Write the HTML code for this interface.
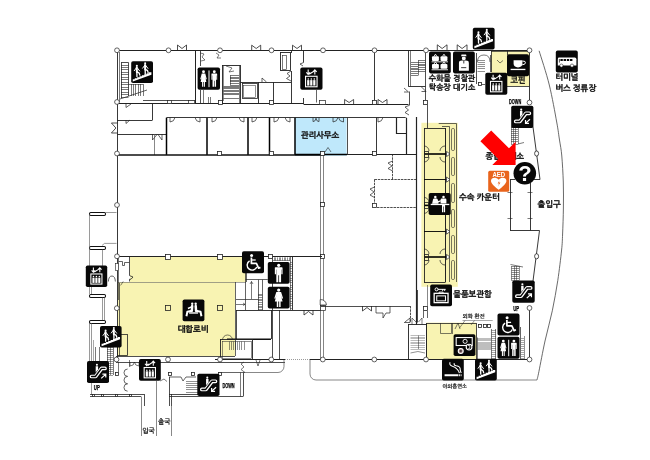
<!DOCTYPE html>
<html lang="ko"><head><meta charset="utf-8"><title>1F 안내도</title>
<style>
html,body{margin:0;padding:0;background:#fff;}
body{width:650px;height:460px;overflow:hidden;}
svg{display:block;will-change:transform;font-family:"Liberation Sans","NanumGothic","Noto Sans CJK KR",sans-serif;}
</style></head><body>
<svg width="650" height="460" viewBox="0 0 650 460">
<rect width="650" height="460" fill="#fff"/>
<path d="M130 257 L246 257 L246 282 L235 282 L235 356 L118 356 L118 282 L130 282 Z" fill="#f8f3b2"/>
<rect x="294.8" y="117.4" width="51.8" height="38.4" rx="0" fill="#bfe8fb" stroke="none" stroke-width="1" />
<rect x="421.4" y="122.8" width="36.4" height="164" rx="0" fill="#f8f3b2" stroke="none" stroke-width="1" />
<rect x="491" y="51" width="39" height="35" rx="0" fill="#f8f3b2" stroke="none" stroke-width="1" />
<rect x="426.3" y="322.6" width="50.2" height="36.8" rx="0" fill="#f8f3b2" stroke="none" stroke-width="1" />
<path d="M117 50.5 L530 50.5" fill="none" stroke="#222" stroke-width="1.15" />
<path d="M117.5 50 L117.5 359" fill="none" stroke="#222" stroke-width="0.9" />
<path d="M119.5 52 L119.5 102" fill="none" stroke="#222" stroke-width="0.6" />
<path d="M195.5 50 L195.5 104" fill="none" stroke="#222" stroke-width="1" />
<path d="M143 100.5 L195 100.5" fill="none" stroke="#222" stroke-width="0.8" />
<path d="M117 103.5 L304 103.5" fill="none" stroke="#222" stroke-width="1" />
<path d="M121 62.5 L128.5 62.5" fill="none" stroke="#222" stroke-width="0.8" />
<path d="M121.5 62.5 L121.5 98" fill="none" stroke="#222" stroke-width="0.8" />
<path d="M128.5 62.5 L128.5 96" fill="none" stroke="#222" stroke-width="0.8" />
<path d="M121 65.5 L128.5 65.5" fill="none" stroke="#222" stroke-width="0.6" />
<path d="M121 67.5 L128.5 67.5" fill="none" stroke="#222" stroke-width="0.6" />
<path d="M121 69.5 L128.5 69.5" fill="none" stroke="#222" stroke-width="0.6" />
<path d="M121 72.5 L128.5 72.5" fill="none" stroke="#222" stroke-width="0.6" />
<path d="M121 74.5 L128.5 74.5" fill="none" stroke="#222" stroke-width="0.6" />
<path d="M121 77.5 L128.5 77.5" fill="none" stroke="#222" stroke-width="0.6" />
<path d="M121 79.5 L128.5 79.5" fill="none" stroke="#222" stroke-width="0.6" />
<path d="M121 82.5 L128.5 82.5" fill="none" stroke="#222" stroke-width="0.6" />
<path d="M121 84.5 L128.5 84.5" fill="none" stroke="#222" stroke-width="0.6" />
<path d="M121 87.5 L128.5 87.5" fill="none" stroke="#222" stroke-width="0.6" />
<path d="M121 89.5 L128.5 89.5" fill="none" stroke="#222" stroke-width="0.6" />
<path d="M121 92.5 L128.5 92.5" fill="none" stroke="#222" stroke-width="0.6" />
<path d="M121 94.5 L128.5 94.5" fill="none" stroke="#222" stroke-width="0.6" />
<path d="M121 97.5 L128.5 97.5" fill="none" stroke="#222" stroke-width="0.6" />
<path d="M131.5 84 L131.5 96" fill="none" stroke="#222" stroke-width="0.6" />
<path d="M133.5 84 L133.5 96" fill="none" stroke="#222" stroke-width="0.6" />
<path d="M135.5 84 L135.5 96" fill="none" stroke="#222" stroke-width="0.6" />
<path d="M138.5 84 L138.5 96" fill="none" stroke="#222" stroke-width="0.6" />
<path d="M140.5 84 L140.5 96" fill="none" stroke="#222" stroke-width="0.6" />
<path d="M143.5 84 L143.5 96" fill="none" stroke="#222" stroke-width="0.6" />
<path d="M120 99 L147 90" fill="none" stroke="#222" stroke-width="0.7" />
<path d="M128.5 84.5 L143 84.5" fill="none" stroke="#222" stroke-width="0.6" />
<rect x="167.5" y="100.5" width="4" height="3" rx="0" fill="#fff" stroke="#222" stroke-width="0.7" />
<rect x="188.5" y="100.5" width="6" height="3" rx="0" fill="#fff" stroke="#222" stroke-width="0.7" />
<path d="M177.5 50 L177.5 45 L182.0 48.5 L186.5 45 L186.5 50" fill="none" stroke="#222" stroke-width="0.8" />
<path d="M126 104 L126 107.5 L131 104" fill="none" stroke="#222" stroke-width="0.7" />
<path d="M152.5 104 L152.5 120" fill="none" stroke="#222" stroke-width="0.9" />
<path d="M117 120.5 L152.5 120.5" fill="none" stroke="#222" stroke-width="0.9" />
<path d="M126 120 L126 123.5 L130 120" fill="none" stroke="#222" stroke-width="0.7" />
<path d="M117.4 123 L111.4 123 L115.9 128.0 L111.4 133 L117.4 133" fill="none" stroke="#222" stroke-width="0.8" />
<path d="M117 134.5 L166 134.5" fill="none" stroke="#222" stroke-width="0.9" />
<path d="M152.5 134 L152.5 140 L157 134.5" fill="none" stroke="#222" stroke-width="0.7" />
<path d="M162 134 L162 140 L158 134.5" fill="none" stroke="#222" stroke-width="0.7" />
<path d="M154.5 134 L154.5 155" fill="none" stroke="#555" stroke-width="0.7" />
<path d="M200.5 51 L200.5 66" fill="none" stroke="#222" stroke-width="0.8" />
<path d="M200.5 90 L200.5 104" fill="none" stroke="#222" stroke-width="0.8" />
<path d="M203.5 90 L203.5 104" fill="none" stroke="#222" stroke-width="0.6" />
<path d="M200.3 53 L204 54 L202 57 L205 60 L201 61" fill="none" stroke="#222" stroke-width="0.6" />
<path d="M216 53 L219 55 L217 58 L221 58" fill="none" stroke="#222" stroke-width="0.6" />
<path d="M208.5 97 L208.5 104" fill="none" stroke="#222" stroke-width="0.6" />
<path d="M210.5 97 L210.5 104" fill="none" stroke="#222" stroke-width="0.6" />
<rect x="218.5" y="100.5" width="4" height="4" rx="0" fill="#fff" stroke="#222" stroke-width="0.8" />
<rect x="222.5" y="65.5" width="18" height="38" rx="0" fill="none" stroke="#222" stroke-width="0.9" />
<path d="M223.5 66 L223.5 101" fill="none" stroke="#222" stroke-width="0.5" />
<path d="M239.5 65.5 L239.5 103.5" fill="none" stroke="#222" stroke-width="0.6" />
<path d="M230 75.5 L239 75.5" fill="none" stroke="#222" stroke-width="0.6" />
<path d="M230 77.5 L239 77.5" fill="none" stroke="#222" stroke-width="0.6" />
<path d="M230 78.5 L239 78.5" fill="none" stroke="#222" stroke-width="0.6" />
<path d="M230 80.5 L239 80.5" fill="none" stroke="#222" stroke-width="0.6" />
<path d="M230 81.5 L239 81.5" fill="none" stroke="#222" stroke-width="0.6" />
<path d="M230 83.5 L239 83.5" fill="none" stroke="#222" stroke-width="0.6" />
<path d="M230 85.5 L239 85.5" fill="none" stroke="#222" stroke-width="0.6" />
<path d="M223.5 86.5 L239 86.5" fill="none" stroke="#222" stroke-width="0.6" />
<path d="M223.5 87.5 L239 87.5" fill="none" stroke="#222" stroke-width="0.6" />
<path d="M223.5 88.5 L239 88.5" fill="none" stroke="#222" stroke-width="0.6" />
<path d="M223.5 90.5 L239 90.5" fill="none" stroke="#222" stroke-width="0.6" />
<path d="M223.5 91.5 L239 91.5" fill="none" stroke="#222" stroke-width="0.6" />
<path d="M223.5 93.5 L239 93.5" fill="none" stroke="#222" stroke-width="0.6" />
<path d="M223.5 94.5 L239 94.5" fill="none" stroke="#222" stroke-width="0.6" />
<path d="M230.5 75.5 L230.5 85" fill="none" stroke="#222" stroke-width="0.6" />
<path d="M223.5 98.5 L239 98.5" fill="none" stroke="#222" stroke-width="0.6" />
<path d="M226 66 L232 68 L229 72 L234 71" fill="none" stroke="#222" stroke-width="0.6" />
<rect x="242.5" y="83.5" width="15" height="15" rx="0" fill="none" stroke="#222" stroke-width="0.8" />
<rect x="243.5" y="85.5" width="12" height="12" rx="0" fill="none" stroke="#222" stroke-width="0.5" />
<path d="M240.5 82.5 L291 82.5" fill="none" stroke="#222" stroke-width="0.9" />
<path d="M258.5 82 L258.5 104" fill="none" stroke="#222" stroke-width="0.9" />
<path d="M273.5 82 L273.5 104" fill="none" stroke="#222" stroke-width="0.9" />
<path d="M291.5 50 L291.5 53" fill="none" stroke="#222" stroke-width="0.9" />
<path d="M291.5 71 L291.5 104" fill="none" stroke="#222" stroke-width="0.9" />
<path d="M262 82 L262 78 L266.5 82" fill="none" stroke="#222" stroke-width="0.7" />
<rect x="269.5" y="100.5" width="4" height="4" rx="0" fill="#fff" stroke="#222" stroke-width="0.8" />
<rect x="280.5" y="52.5" width="10" height="18" rx="0" fill="none" stroke="#222" stroke-width="0.9" />
<rect x="282.5" y="55.5" width="4" height="14" rx="0" fill="none" stroke="#222" stroke-width="0.6" />
<path d="M291 71 L287 73.5 L290 76 L286.5 78.5 L291 81" fill="none" stroke="#222" stroke-width="0.7" />
<path d="M251.7 50 L251.7 45.2 L256.2 48.5 L260.7 45.2 L260.7 50" fill="none" stroke="#222" stroke-width="0.8" />
<path d="M292.5 50 L292.5 45.2 L297.0 48.5 L301.5 45.2 L301.5 50" fill="none" stroke="#222" stroke-width="0.8" />
<path d="M303.5 50 L303.5 62.5" fill="none" stroke="#222" stroke-width="0.9" />
<path d="M303.6 62.5 L300 64 L303 66" fill="none" stroke="#222" stroke-width="0.7" />
<path d="M303.5 98 L303.5 104" fill="none" stroke="#222" stroke-width="0.9" />
<path d="M303.6 104.5 L408.5 104.5" fill="none" stroke="#222" stroke-width="1" />
<path d="M316.5 90 L316.5 102.5" fill="none" stroke="#222" stroke-width="0.7" />
<rect x="319.5" y="100.5" width="6" height="4" rx="0" fill="#fff" stroke="#222" stroke-width="0.7" />
<path d="M374.5 52 L374.5 100" fill="none" stroke="#222" stroke-width="0.9" />
<rect x="372.5" y="100.5" width="4" height="4" rx="0" fill="#fff" stroke="#222" stroke-width="0.8" />
<path d="M344.6 104 L344.6 99.5 L349.1 102.5 L353.6 99.5 L353.6 104" fill="none" stroke="#222" stroke-width="0.8" />
<path d="M378 104 L378 99.5 L382.5 102.5 L387 99.5 L387 104" fill="none" stroke="#222" stroke-width="0.8" />
<path d="M408.5 50 L408.5 86.7" fill="none" stroke="#222" stroke-width="0.9" />
<path d="M410.5 50 L410.5 86.7" fill="none" stroke="#222" stroke-width="0.6" />
<path d="M408.5 86.5 L425.5 86.5" fill="none" stroke="#222" stroke-width="0.9" />
<path d="M425.5 53 L425.5 100" fill="none" stroke="#222" stroke-width="0.8" />
<path d="M411 62.5 L418 62.5" fill="none" stroke="#222" stroke-width="0.6" />
<path d="M411 64.5 L418 64.5" fill="none" stroke="#222" stroke-width="0.6" />
<path d="M411 66.5 L418 66.5" fill="none" stroke="#222" stroke-width="0.6" />
<path d="M411 68.5 L418 68.5" fill="none" stroke="#222" stroke-width="0.6" />
<path d="M411 69.5 L418 69.5" fill="none" stroke="#222" stroke-width="0.6" />
<path d="M411 71.5 L418 71.5" fill="none" stroke="#222" stroke-width="0.6" />
<path d="M411 73.5 L418 73.5" fill="none" stroke="#222" stroke-width="0.6" />
<path d="M411 75.5 L418 75.5" fill="none" stroke="#222" stroke-width="0.6" />
<path d="M418 60.5 L425.3 60.5" fill="none" stroke="#222" stroke-width="0.6" />
<path d="M418 62.5 L425.3 62.5" fill="none" stroke="#222" stroke-width="0.6" />
<path d="M418 64.5 L425.3 64.5" fill="none" stroke="#222" stroke-width="0.6" />
<path d="M418 65.5 L425.3 65.5" fill="none" stroke="#222" stroke-width="0.6" />
<path d="M418 67.5 L425.3 67.5" fill="none" stroke="#222" stroke-width="0.6" />
<path d="M418 69.5 L425.3 69.5" fill="none" stroke="#222" stroke-width="0.6" />
<path d="M418 71.5 L425.3 71.5" fill="none" stroke="#222" stroke-width="0.6" />
<path d="M418.5 60.5 L418.5 75.5" fill="none" stroke="#222" stroke-width="0.6" />
<path d="M404 88 L408.5 92 L404 92" fill="none" stroke="#222" stroke-width="0.7" />
<path d="M421.5 87 L426 91.5 L421.5 91.5" fill="none" stroke="#222" stroke-width="0.7" />
<path d="M409.5 91.5 L409.5 105.5" fill="none" stroke="#222" stroke-width="0.8" />
<path d="M409 105.5 L405 107 L408.5 110 L405 112.5 L409 115" fill="none" stroke="#222" stroke-width="0.7" />
<rect x="423.5" y="100.5" width="4" height="4" rx="0" fill="#fff" stroke="#222" stroke-width="0.8" />
<path d="M427.5 104.5 L427.5 128" fill="none" stroke="#222" stroke-width="0.8" />
<path d="M166.5 117.5 L405.7 117.5" fill="none" stroke="#222" stroke-width="0.9" />
<path d="M166.5 117.7 L166.5 155" fill="none" stroke="#000" stroke-width="1.5" />
<path d="M207 117.7 L207 155" fill="none" stroke="#000" stroke-width="1.5" />
<path d="M248 117.7 L248 155" fill="none" stroke="#000" stroke-width="1.5" />
<path d="M269.5 117.7 L269.5 155" fill="none" stroke="#000" stroke-width="1.5" />
<path d="M295 117.7 L295 155" fill="none" stroke="#000" stroke-width="1.5" />
<path d="M313 117.7 V121.6 Q315.6 121.6 316 118.2 Q316.4 121.6 319 121.6 V117.7" fill="none" stroke="#222" stroke-width="0.7" />
<path d="M170 117.7 V122 Q174.2 121.6 174.8 117.9" fill="none" stroke="#222" stroke-width="0.7" />
<path d="M212 117.7 V122 Q216.2 121.6 216.8 117.9" fill="none" stroke="#222" stroke-width="0.7" />
<path d="M252 117.7 V122 Q256.2 121.6 256.8 117.9" fill="none" stroke="#222" stroke-width="0.7" />
<path d="M274 117.7 V122 Q278.2 121.6 278.8 117.9" fill="none" stroke="#222" stroke-width="0.7" />
<path d="M333 117.7 V122 Q337.2 121.6 337.8 117.9" fill="none" stroke="#222" stroke-width="0.7" />
<path d="M378 117.7 V122 Q382.2 121.6 382.8 117.9" fill="none" stroke="#222" stroke-width="0.7" />
<path d="M200 117.7 V122 Q195.8 121.6 195.2 117.9" fill="none" stroke="#222" stroke-width="0.7" />
<path d="M244 117.7 V122 Q239.8 121.6 239.2 117.9" fill="none" stroke="#222" stroke-width="0.7" />
<path d="M290 117.7 V122 Q285.8 121.6 285.2 117.9" fill="none" stroke="#222" stroke-width="0.7" />
<path d="M343.5 117.7 V122 Q339.3 121.6 338.7 117.9" fill="none" stroke="#222" stroke-width="0.7" />
<path d="M117 155 L322 155" fill="none" stroke="#111" stroke-width="1.5" />
<path d="M322 154.5 L416 154.5" fill="none" stroke="#222" stroke-width="1" />
<path d="M347.5 117.7 L347.5 154" fill="none" stroke="#222" stroke-width="0.8" />
<path d="M376.5 117.7 L376.5 154" fill="none" stroke="#222" stroke-width="0.9" />
<path d="M396.5 117.7 L396.5 133.5 L406.6 133.5" fill="none" stroke="#222" stroke-width="1.2" />
<path d="M406.5 117.7 L406.5 154" fill="none" stroke="#222" stroke-width="1.2" />
<path d="M416.5 117 L416.5 325" fill="none" stroke="#222" stroke-width="1.2" />
<path d="M295 154.5 L347 154.5" fill="none" stroke="#000" stroke-width="1.5" />
<rect x="217.5" y="151.5" width="4" height="4" rx="0" fill="#fff" stroke="#222" stroke-width="0.8" />
<rect x="269.5" y="151.5" width="4" height="4" rx="0" fill="#fff" stroke="#222" stroke-width="0.8" />
<rect x="320.5" y="151.5" width="4" height="4" rx="0" fill="#fff" stroke="#222" stroke-width="0.8" />
<rect x="372.5" y="151.5" width="4" height="4" rx="0" fill="#fff" stroke="#222" stroke-width="0.8" />
<path d="M325 152 L328 147.5 L331 152" fill="none" stroke="#222" stroke-width="0.6" />
<path d="M320.5 155 L320.5 359" fill="none" stroke="#333" stroke-width="0.6" />
<path d="M323.5 155 L323.5 359" fill="none" stroke="#333" stroke-width="0.6" />
<rect x="320.5" y="202.5" width="4" height="4" rx="0" fill="#fff" stroke="#222" stroke-width="0.8" />
<rect x="320.5" y="254.5" width="4" height="4" rx="0" fill="#fff" stroke="#222" stroke-width="0.8" />
<path d="M117 256.5 L322 256.5" fill="none" stroke="#222" stroke-width="1.2" />
<rect x="165.5" y="254.5" width="5" height="5" rx="0" fill="#fff" stroke="#222" stroke-width="0.8" />
<rect x="217.5" y="254.5" width="5" height="5" rx="0" fill="#fff" stroke="#222" stroke-width="0.8" />
<path d="M392.5 154 L392.5 179.4" fill="none" stroke="#222" stroke-width="0.8" stroke-dasharray="2.5 0.8"/>
<path d="M392.6 161 L388 163 L392 166 L388 168.5 L392.6 171" fill="none" stroke="#222" stroke-width="0.7" />
<path d="M374.5 179.5 L416 179.5" fill="none" stroke="#222" stroke-width="0.8" stroke-dasharray="2.5 0.8"/>
<path d="M374.5 179.4 L374.5 203" fill="none" stroke="#222" stroke-width="0.8" stroke-dasharray="2.5 0.8"/>
<path d="M374.5 187 L370 189 L374 192 L370 195 L374.5 197.5" fill="none" stroke="#222" stroke-width="0.7" />
<rect x="372.5" y="203.5" width="4" height="4" rx="0" fill="#fff" stroke="#222" stroke-width="0.8" />
<path d="M377 207.5 L416 207.5" fill="none" stroke="#222" stroke-width="0.8" stroke-dasharray="2.5 0.8"/>
<path d="M424 128.5 L445 128.5" fill="none" stroke="#222" stroke-width="0.9" />
<path d="M424.5 128 L424.5 282.5" fill="none" stroke="#222" stroke-width="0.9" />
<path d="M445.5 128 L445.5 282.5" fill="none" stroke="#222" stroke-width="1" />
<path d="M424 282.5 L445 282.5" fill="none" stroke="#222" stroke-width="0.9" />
<path d="M438.7 123.5 L456.5 123.5 L456.5 282" fill="none" stroke="#222" stroke-width="0.7" />
<path d="M442 126.5 L449.5 126.5 L449.5 282" fill="none" stroke="#222" stroke-width="0.7" />
<path d="M424 154 L446.5 154" fill="none" stroke="#000" stroke-width="1.6" />
<path d="M446.5 151.4 L450 154 L446.5 156.6 Z" fill="#fff" stroke="#222" stroke-width="0.7" />
<rect x="424.5" y="151.5" width="4" height="6" rx="0" fill="none" stroke="#222" stroke-width="0.8" />
<path d="M424 146 A5 5 0 0 1 429 151" fill="none" stroke="#222" stroke-width="0.7" />
<path d="M424 162 A5 5 0 0 0 429 157" fill="none" stroke="#222" stroke-width="0.7" />
<path d="M445 146 A5 5 0 0 0 440 151" fill="none" stroke="#222" stroke-width="0.7" />
<path d="M445 162 A5 5 0 0 1 440 157" fill="none" stroke="#222" stroke-width="0.7" />
<path d="M424 179.5 L446.5 179.5" fill="none" stroke="#000" stroke-width="0.9" />
<path d="M446.5 177.0 L450 179.6 L446.5 182.2 Z" fill="#fff" stroke="#222" stroke-width="0.7" />
<path d="M424 205.4 L446.5 205.4" fill="none" stroke="#000" stroke-width="1.6" />
<path d="M446.5 202.8 L450 205.4 L446.5 208.0 Z" fill="#fff" stroke="#222" stroke-width="0.7" />
<rect x="424.5" y="202.5" width="4" height="6" rx="0" fill="none" stroke="#222" stroke-width="0.8" />
<path d="M424 197.4 A5 5 0 0 1 429 202.4" fill="none" stroke="#222" stroke-width="0.7" />
<path d="M424 213.4 A5 5 0 0 0 429 208.4" fill="none" stroke="#222" stroke-width="0.7" />
<path d="M445 197.4 A5 5 0 0 0 440 202.4" fill="none" stroke="#222" stroke-width="0.7" />
<path d="M445 213.4 A5 5 0 0 1 440 208.4" fill="none" stroke="#222" stroke-width="0.7" />
<path d="M424 231.5 L446.5 231.5" fill="none" stroke="#000" stroke-width="0.9" />
<path d="M446.5 229.0 L450 231.6 L446.5 234.2 Z" fill="#fff" stroke="#222" stroke-width="0.7" />
<path d="M424 257 L446.5 257" fill="none" stroke="#000" stroke-width="1.6" />
<path d="M446.5 254.4 L450 257 L446.5 259.6 Z" fill="#fff" stroke="#222" stroke-width="0.7" />
<rect x="424.5" y="254.5" width="4" height="6" rx="0" fill="none" stroke="#222" stroke-width="0.8" />
<path d="M424 249 A5 5 0 0 1 429 254" fill="none" stroke="#222" stroke-width="0.7" />
<path d="M424 265 A5 5 0 0 0 429 260" fill="none" stroke="#222" stroke-width="0.7" />
<path d="M445 249 A5 5 0 0 0 440 254" fill="none" stroke="#222" stroke-width="0.7" />
<path d="M445 265 A5 5 0 0 1 440 260" fill="none" stroke="#222" stroke-width="0.7" />
<rect x="451.5" y="128.5" width="3" height="22" rx="1.2" fill="none" stroke="#222" stroke-width="0.6" />
<rect x="451.5" y="157.5" width="3" height="18" rx="1.2" fill="none" stroke="#222" stroke-width="0.6" />
<rect x="451.5" y="183.5" width="3" height="19" rx="1.2" fill="none" stroke="#222" stroke-width="0.6" />
<rect x="451.5" y="209.5" width="3" height="18" rx="1.2" fill="none" stroke="#222" stroke-width="0.6" />
<rect x="451.5" y="235.5" width="3" height="18" rx="1.2" fill="none" stroke="#222" stroke-width="0.6" />
<rect x="451.5" y="260.5" width="3" height="19" rx="1.2" fill="none" stroke="#222" stroke-width="0.6" />
<path d="M427.5 285 L427.5 306" fill="none" stroke="#555" stroke-width="0.7" />
<rect x="423.5" y="306.5" width="4" height="4" rx="0" fill="#fff" stroke="#222" stroke-width="0.8" />
<path d="M423.5 311 L423.5 318" fill="none" stroke="#222" stroke-width="0.7" />
<path d="M427.5 311 L427.5 318" fill="none" stroke="#222" stroke-width="0.7" />
<path d="M118 282.5 L246 282.5" fill="none" stroke="#666" stroke-width="0.6" />
<path d="M129.5 257 L129.5 275.6 L133 277 L131 279.2 L129.5 279.2 L129.5 281.5" fill="none" stroke="#222" stroke-width="0.8" />
<path d="M118.5 258 L118.5 300" fill="none" stroke="#222" stroke-width="0.6" />
<rect x="115.5" y="263.5" width="3" height="7" rx="0" fill="#fff" stroke="#222" stroke-width="0.6" />
<path d="M118.7 261.5 L122.5 261.5 L122.5 265.5 L124.5 265.5 L124.5 262.5 L129.2 262.5" fill="none" stroke="#222" stroke-width="0.7" />
<path d="M108.4 281.5 Q108.6 276 112 276 Q115 276 115.4 281.5" fill="none" stroke="#222" stroke-width="0.7" />
<path d="M123.2 281.5 L120.6 285.4" fill="none" stroke="#222" stroke-width="0.6" />
<path d="M119.5 283 L119.5 356" fill="none" stroke="#222" stroke-width="0.7" />
<rect x="165.5" y="305.5" width="5" height="5" rx="0" fill="#f8f3b2" stroke="#222" stroke-width="0.8" />
<rect x="217.5" y="305.5" width="5" height="5" rx="0" fill="#f8f3b2" stroke="#222" stroke-width="0.8" />
<rect x="117.5" y="334.5" width="10" height="21" rx="0" fill="none" stroke="#222" stroke-width="0.8" />
<rect x="89.5" y="212.5" width="16" height="3" rx="1.2" fill="#fff" stroke="#111" stroke-width="1.05" />
<rect x="89.5" y="246.5" width="16" height="3" rx="1.2" fill="#fff" stroke="#111" stroke-width="1.05" />
<rect x="89.5" y="294.5" width="16" height="3" rx="1.2" fill="#fff" stroke="#111" stroke-width="1.05" />
<rect x="89.5" y="320.5" width="16" height="3" rx="1.2" fill="#fff" stroke="#111" stroke-width="1.05" />
<path d="M89.5 214 L89.5 266" fill="none" stroke="#555" stroke-width="0.6" />
<path d="M89.5 286 L89.5 294" fill="none" stroke="#555" stroke-width="0.6" />
<path d="M91.5 286 L91.5 294" fill="none" stroke="#555" stroke-width="0.6" />
<path d="M105.6 212.5 L116.5 212.5" fill="none" stroke="#555" stroke-width="0.6" />
<path d="M102 245.5 L104.5 243.4 L116.5 243.4" fill="none" stroke="#555" stroke-width="0.6" />
<path d="M102.5 249.5 L102.5 266" fill="none" stroke="#555" stroke-width="0.6" />
<path d="M102.5 297.5 L102.5 320" fill="none" stroke="#555" stroke-width="0.6" />
<path d="M104.5 297.5 L104.5 320" fill="none" stroke="#555" stroke-width="0.6" />
<path d="M89.5 323 L89.5 361" fill="none" stroke="#555" stroke-width="0.6" />
<path d="M91.5 323 L91.5 395" fill="none" stroke="#555" stroke-width="0.6" />
<circle cx="116.8" cy="308.2" r="2.4" fill="#fff" stroke="#222" stroke-width="0.7"/>
<path d="M246.5 257 L246.5 282" fill="none" stroke="#222" stroke-width="0.7" />
<path d="M235.5 282 L235.5 356" fill="none" stroke="#222" stroke-width="0.7" />
<path d="M236 310.5 L321 310.5" fill="none" stroke="#222" stroke-width="0.9" />
<path d="M236.5 310 L236.5 339" fill="none" stroke="#222" stroke-width="0.8" />
<path d="M227 339.3 L271 339.3" fill="none" stroke="#111" stroke-width="1.4" />
<path d="M271.5 310 L271.5 339" fill="none" stroke="#222" stroke-width="0.9" />
<path d="M272.5 256.5 L272.5 359.5" fill="none" stroke="#222" stroke-width="0.8" />
<path d="M279.5 310 L279.5 359.5" fill="none" stroke="#222" stroke-width="0.8" />
<path d="M265 256.5 L292 256.5" fill="none" stroke="#222" stroke-width="1" />
<path d="M292.5 256.5 L292.5 310" fill="none" stroke="#222" stroke-width="0.9" />
<path d="M245.6 279.5 L267.8 279.5" fill="none" stroke="#222" stroke-width="0.7" />
<path d="M245.5 273 L245.5 310" fill="none" stroke="#222" stroke-width="0.7" />
<path d="M258.5 279.7 L258.5 310" fill="none" stroke="#222" stroke-width="0.7" />
<path d="M262.5 279.7 L262.5 310" fill="none" stroke="#222" stroke-width="0.7" />
<path d="M258 294.5 L262.3 294.5" fill="none" stroke="#222" stroke-width="0.5" />
<path d="M258 295.5 L262.3 295.5" fill="none" stroke="#222" stroke-width="0.5" />
<path d="M258 297.5 L262.3 297.5" fill="none" stroke="#222" stroke-width="0.5" />
<path d="M258 299.5 L262.3 299.5" fill="none" stroke="#222" stroke-width="0.5" />
<path d="M258 300.5 L262.3 300.5" fill="none" stroke="#222" stroke-width="0.5" />
<path d="M258 302.5 L262.3 302.5" fill="none" stroke="#222" stroke-width="0.5" />
<path d="M258 304.5 L262.3 304.5" fill="none" stroke="#222" stroke-width="0.5" />
<path d="M258 306.5 L262.3 306.5" fill="none" stroke="#222" stroke-width="0.5" />
<path d="M258 307.5 L262.3 307.5" fill="none" stroke="#222" stroke-width="0.5" />
<path d="M258 309.5 L262.3 309.5" fill="none" stroke="#222" stroke-width="0.5" />
<path d="M251.5 281.5 L251.5 299" fill="none" stroke="#222" stroke-width="0.6" />
<path d="M250 284 L251.5 281.5 L253 284" fill="none" stroke="#222" stroke-width="0.6" />
<path d="M236 299.5 L258 299.5" fill="none" stroke="#222" stroke-width="0.7" />
<path d="M236 304.5 L245 304.5" fill="none" stroke="#222" stroke-width="0.6" />
<path d="M243 303 L245 304.3 L243 305.6" fill="none" stroke="#222" stroke-width="0.6" />
<path d="M274.5 257.4 L274.5 260.6" fill="none" stroke="#222" stroke-width="0.5" />
<path d="M275.5 257.4 L275.5 260.6" fill="none" stroke="#222" stroke-width="0.5" />
<path d="M277.5 257.4 L277.5 260.6" fill="none" stroke="#222" stroke-width="0.5" />
<path d="M279.5 257.4 L279.5 260.6" fill="none" stroke="#222" stroke-width="0.5" />
<path d="M280.5 257.4 L280.5 260.6" fill="none" stroke="#222" stroke-width="0.5" />
<path d="M282.5 257.4 L282.5 260.6" fill="none" stroke="#222" stroke-width="0.5" />
<path d="M284.5 257.4 L284.5 260.6" fill="none" stroke="#222" stroke-width="0.5" />
<path d="M285.5 257.4 L285.5 260.6" fill="none" stroke="#222" stroke-width="0.5" />
<path d="M287.5 257.4 L287.5 260.6" fill="none" stroke="#222" stroke-width="0.5" />
<path d="M289.5 257.4 L289.5 260.6" fill="none" stroke="#222" stroke-width="0.5" />
<path d="M273 260.5 L290 260.5" fill="none" stroke="#222" stroke-width="0.5" />
<path d="M290.5 257 L290.5 310" fill="none" stroke="#222" stroke-width="0.6" />
<path d="M290 262.5 L292 262.5" fill="none" stroke="#222" stroke-width="0.45" />
<path d="M290 264.5 L292 264.5" fill="none" stroke="#222" stroke-width="0.45" />
<path d="M290 266.5 L292 266.5" fill="none" stroke="#222" stroke-width="0.45" />
<path d="M290 268.5 L292 268.5" fill="none" stroke="#222" stroke-width="0.45" />
<path d="M290 271.5 L292 271.5" fill="none" stroke="#222" stroke-width="0.45" />
<path d="M290 273.5 L292 273.5" fill="none" stroke="#222" stroke-width="0.45" />
<path d="M290 275.5 L292 275.5" fill="none" stroke="#222" stroke-width="0.45" />
<path d="M290 278.5 L292 278.5" fill="none" stroke="#222" stroke-width="0.45" />
<path d="M290 280.5 L292 280.5" fill="none" stroke="#222" stroke-width="0.45" />
<path d="M290 282.5 L292 282.5" fill="none" stroke="#222" stroke-width="0.45" />
<path d="M290 285.5 L292 285.5" fill="none" stroke="#222" stroke-width="0.45" />
<path d="M290 287.5 L292 287.5" fill="none" stroke="#222" stroke-width="0.45" />
<path d="M290 289.5 L292 289.5" fill="none" stroke="#222" stroke-width="0.45" />
<path d="M290 291.5 L292 291.5" fill="none" stroke="#222" stroke-width="0.45" />
<path d="M290 294.5 L292 294.5" fill="none" stroke="#222" stroke-width="0.45" />
<path d="M290 296.5 L292 296.5" fill="none" stroke="#222" stroke-width="0.45" />
<path d="M290 298.5 L292 298.5" fill="none" stroke="#222" stroke-width="0.45" />
<path d="M290 301.5 L292 301.5" fill="none" stroke="#222" stroke-width="0.45" />
<path d="M290 303.5 L292 303.5" fill="none" stroke="#222" stroke-width="0.45" />
<path d="M290 305.5 L292 305.5" fill="none" stroke="#222" stroke-width="0.45" />
<path d="M290 308.5 L292 308.5" fill="none" stroke="#222" stroke-width="0.45" />
<rect x="268.5" y="254.5" width="4" height="4" rx="0" fill="#fff" stroke="#222" stroke-width="0.8" />
<rect x="320.5" y="305.5" width="5" height="5" rx="0" fill="#fff" stroke="#222" stroke-width="0.7" />
<path d="M320.2 305 V299.6 A5.6 5.4 0 0 1 326.4 305 Z" fill="#fff" stroke="#222" stroke-width="0.7" />
<path d="M304 310 L304 315 L308.5 311.5 L313 315 L313 310" fill="none" stroke="#222" stroke-width="0.8" />
<rect x="220.5" y="339.5" width="32" height="20" rx="0" fill="none" stroke="#222" stroke-width="0.9" />
<rect x="222.5" y="341.5" width="29" height="17" rx="0" fill="none" stroke="#222" stroke-width="0.5" />
<path d="M229.5 341.5 L229.5 350" fill="none" stroke="#222" stroke-width="0.5" />
<path d="M231.5 341.5 L231.5 350" fill="none" stroke="#222" stroke-width="0.5" />
<path d="M233.5 341.5 L233.5 350" fill="none" stroke="#222" stroke-width="0.5" />
<path d="M235.5 341.5 L235.5 350" fill="none" stroke="#222" stroke-width="0.5" />
<path d="M237.5 341.5 L237.5 350" fill="none" stroke="#222" stroke-width="0.5" />
<path d="M239.5 341.5 L239.5 350" fill="none" stroke="#222" stroke-width="0.5" />
<path d="M241.5 341.5 L241.5 350" fill="none" stroke="#222" stroke-width="0.5" />
<path d="M244.5 341.5 L244.5 350" fill="none" stroke="#222" stroke-width="0.5" />
<path d="M222.5 340 A5 5 0 0 1 232.5 340" fill="none" stroke="#222" stroke-width="0.6" />
<path d="M116 356.5 L235 356.5" fill="none" stroke="#222" stroke-width="0.8" />
<path d="M116 362.5 L285 362.5" fill="none" stroke="#222" stroke-width="0.8" />
<path d="M215 359.5 L285 359.5" fill="none" stroke="#222" stroke-width="1.2" />
<path d="M285 359.5 L310 359.5" fill="none" stroke="#555" stroke-width="0.6" stroke-dasharray="1 1"/>
<path d="M310 359.5 L530 359.5" fill="none" stroke="#222" stroke-width="1.2" />
<path d="M245 372.5 L278 372.5 A6 6 0 0 0 284 366.5 L284 360" fill="none" stroke="#555" stroke-width="0.7" />
<path d="M310 360 L310 374 A6 6 0 0 0 316 380 L537 380" fill="none" stroke="#555" stroke-width="0.7" />
<path d="M90 394.5 L144 394.5" fill="none" stroke="#222" stroke-width="0.8" />
<path d="M90 396.5 L141 396.5" fill="none" stroke="#222" stroke-width="0.8" />
<path d="M144.5 394 L144.5 406" fill="none" stroke="#222" stroke-width="0.8" />
<path d="M141.5 396.5 L141.5 436" fill="none" stroke="#555" stroke-width="0.7" />
<path d="M156.5 381 L156.5 436" fill="none" stroke="#555" stroke-width="0.7" />
<path d="M171.5 406 L171.5 436" fill="none" stroke="#555" stroke-width="0.7" />
<path d="M169.5 377 L169.5 406" fill="none" stroke="#222" stroke-width="0.8" />
<path d="M171.5 394 L171.5 406" fill="none" stroke="#222" stroke-width="0.8" />
<path d="M169 394.5 L219 394.5" fill="none" stroke="#222" stroke-width="0.8" />
<path d="M169 396.5 L243 396.5" fill="none" stroke="#222" stroke-width="0.8" />
<path d="M243.5 372.5 L243.5 396.5" fill="none" stroke="#222" stroke-width="0.8" />
<path d="M240.5 372.5 L240.5 396.5" fill="none" stroke="#222" stroke-width="0.6" />
<path d="M219 372.5 L245 372.5" fill="none" stroke="#222" stroke-width="0.7" />
<rect x="92.5" y="394.5" width="2" height="2" rx="0" fill="#fff" stroke="#222" stroke-width="0.8" />
<rect x="101.5" y="394.5" width="2" height="2" rx="0" fill="#fff" stroke="#222" stroke-width="0.8" />
<rect x="115.5" y="394.5" width="2" height="2" rx="0" fill="#fff" stroke="#222" stroke-width="0.8" />
<rect x="129.5" y="394.5" width="2" height="2" rx="0" fill="#fff" stroke="#222" stroke-width="0.8" />
<rect x="115.5" y="372.5" width="3" height="3" rx="0" fill="#fff" stroke="#222" stroke-width="0.8" />
<rect x="168.5" y="372.5" width="3" height="3" rx="0" fill="#fff" stroke="#222" stroke-width="0.8" />
<rect x="191.5" y="372.5" width="3" height="3" rx="0" fill="#fff" stroke="#222" stroke-width="0.8" />
<rect x="218.5" y="372.5" width="3" height="3" rx="0" fill="#fff" stroke="#222" stroke-width="0.8" />
<path d="M127.6 369 A3.6 3.7 0 0 0 127.6 376.4 A3.6 3.7 0 0 0 127.6 383.8 A3.6 3.7 0 0 0 127.6 391.2" fill="none" stroke="#222" stroke-width="0.7" />
<path d="M130 362 V366 Q134 366 134.4 362 Q135 366 139 366 V362" fill="none" stroke="#222" stroke-width="0.6" />
<path d="M118.5 362 L118.5 372" fill="none" stroke="#222" stroke-width="0.6" />
<path d="M113.5 347 L113.5 375" fill="none" stroke="#222" stroke-width="0.6" />
<path d="M107.5 347 L107.5 375" fill="none" stroke="#222" stroke-width="0.6" />
<path d="M110.5 347 L110.5 375" fill="none" stroke="#222" stroke-width="0.5" />
<path d="M107 347.5 L113 347.5" fill="none" stroke="#222" stroke-width="0.45" />
<path d="M107 349.5 L113 349.5" fill="none" stroke="#222" stroke-width="0.45" />
<path d="M107 351.5 L113 351.5" fill="none" stroke="#222" stroke-width="0.45" />
<path d="M107 353.5 L113 353.5" fill="none" stroke="#222" stroke-width="0.45" />
<path d="M107 355.5 L113 355.5" fill="none" stroke="#222" stroke-width="0.45" />
<path d="M107 357.5 L113 357.5" fill="none" stroke="#222" stroke-width="0.45" />
<path d="M107 359.5 L113 359.5" fill="none" stroke="#222" stroke-width="0.45" />
<path d="M107 361.5 L113 361.5" fill="none" stroke="#222" stroke-width="0.45" />
<path d="M107 363.5 L113 363.5" fill="none" stroke="#222" stroke-width="0.45" />
<path d="M107 365.5 L113 365.5" fill="none" stroke="#222" stroke-width="0.45" />
<path d="M107 367.5 L113 367.5" fill="none" stroke="#222" stroke-width="0.45" />
<path d="M107 369.5 L113 369.5" fill="none" stroke="#222" stroke-width="0.45" />
<path d="M107 371.5 L113 371.5" fill="none" stroke="#222" stroke-width="0.45" />
<path d="M107 373.5 L113 373.5" fill="none" stroke="#222" stroke-width="0.45" />
<path d="M107 375.5 L113 375.5" fill="none" stroke="#222" stroke-width="0.45" />
<path d="M95.5 347 L95.5 361" fill="none" stroke="#222" stroke-width="0.6" />
<path d="M99.5 347 L99.5 361" fill="none" stroke="#222" stroke-width="0.6" />
<path d="M93.5 340 L93.5 361" fill="none" stroke="#555" stroke-width="0.5" />
<path d="M129.5 360 L129.5 367" fill="none" stroke="#222" stroke-width="0.6" />
<path d="M160 381 L164 379 L167 381.5" fill="none" stroke="#222" stroke-width="0.6" />
<path d="M169 377 L181 377 L183 381 L186 377 L196 377" fill="none" stroke="#222" stroke-width="0.7" />
<path d="M186 381.5 L198 381.5" fill="none" stroke="#222" stroke-width="0.5" />
<path d="M186 383.5 L198 383.5" fill="none" stroke="#222" stroke-width="0.5" />
<path d="M186 385.5 L198 385.5" fill="none" stroke="#222" stroke-width="0.5" />
<path d="M186 387.5 L198 387.5" fill="none" stroke="#222" stroke-width="0.5" />
<path d="M186 389.5 L198 389.5" fill="none" stroke="#222" stroke-width="0.5" />
<path d="M186 392.5 L198 392.5" fill="none" stroke="#222" stroke-width="0.5" />
<path d="M244 362 L241 364 L244 367 L241 369.5 L245 372.5" fill="none" stroke="#222" stroke-width="0.6" />
<path d="M256 360 L258 366 L260 360" fill="none" stroke="#222" stroke-width="0.6" />
<path d="M321 306.5 L410 306.5" fill="none" stroke="#222" stroke-width="0.8" />
<path d="M410.5 306 L410.5 322.5" fill="none" stroke="#222" stroke-width="0.8" stroke-dasharray="2.5 0.8"/>
<path d="M417.5 290 L417.5 322.5" fill="none" stroke="#222" stroke-width="0.8" />
<path d="M362.5 306 L362.5 311 L367.0 307.5 L371.5 311 L371.5 306" fill="none" stroke="#222" stroke-width="0.8" />
<path d="M376 306 L376 313 L383 313 L383 318 L386 313 L390 313 L390 306" fill="none" stroke="#222" stroke-width="0.7" />
<path d="M404 322.5 L410 322.5 L410 318 L405 322" fill="none" stroke="#222" stroke-width="0.7" />
<rect x="408.5" y="324.5" width="18" height="35" rx="0" fill="none" stroke="#222" stroke-width="0.9" />
<path d="M410.5 335.5 L425 335.5" fill="none" stroke="#555" stroke-width="0.4" />
<path d="M410.5 337.5 L425 337.5" fill="none" stroke="#555" stroke-width="0.4" />
<path d="M410.5 338.5 L425 338.5" fill="none" stroke="#555" stroke-width="0.4" />
<path d="M410.5 340.5 L425 340.5" fill="none" stroke="#555" stroke-width="0.4" />
<path d="M410.5 342.5 L425 342.5" fill="none" stroke="#555" stroke-width="0.4" />
<path d="M410.5 343.5 L425 343.5" fill="none" stroke="#555" stroke-width="0.4" />
<path d="M410.5 345.5 L425 345.5" fill="none" stroke="#555" stroke-width="0.4" />
<path d="M410.5 347.5 L425 347.5" fill="none" stroke="#555" stroke-width="0.4" />
<path d="M410.5 349.5 L425 349.5" fill="none" stroke="#555" stroke-width="0.4" />
<path d="M418.5 335.5 L418.5 349" fill="none" stroke="#222" stroke-width="0.5" />
<path d="M410.5 353 Q418 350 425 353" fill="none" stroke="#222" stroke-width="0.5" />
<path d="M412 324 L412 318 L416 322" fill="none" stroke="#222" stroke-width="0.6" />
<path d="M422 324 L422 318 L418.5 322" fill="none" stroke="#222" stroke-width="0.6" />
<rect x="426.5" y="323.5" width="50" height="36" rx="0" fill="none" stroke="#222" stroke-width="0.8" />
<path d="M440.5 323 L440.5 333.5 L451.5 333.5 L451.5 323" fill="none" stroke="#222" stroke-width="0.6" />
<path d="M452.5 323 L452.5 334" fill="none" stroke="#222" stroke-width="0.6" />
<path d="M455 329 L458 323 L460 329" fill="none" stroke="#222" stroke-width="0.6" />
<path d="M465 320.5 L459.5 328" fill="none" stroke="#222" stroke-width="0.5" />
<path d="M474.5 320.5 L471 325" fill="none" stroke="#222" stroke-width="0.5" />
<path d="M462.5 320.5 L492.7 320.5" fill="none" stroke="#555" stroke-width="0.5" />
<path d="M477.5 338.5 L491 338.5" fill="none" stroke="#444" stroke-width="0.35" />
<path d="M477.5 339.5 L491 339.5" fill="none" stroke="#444" stroke-width="0.35" />
<path d="M477.5 340.5 L491 340.5" fill="none" stroke="#444" stroke-width="0.35" />
<path d="M477.5 342.5 L491 342.5" fill="none" stroke="#444" stroke-width="0.35" />
<path d="M477.5 343.5 L491 343.5" fill="none" stroke="#444" stroke-width="0.35" />
<path d="M477.5 344.5 L491 344.5" fill="none" stroke="#444" stroke-width="0.35" />
<path d="M477.5 345.5 L491 345.5" fill="none" stroke="#444" stroke-width="0.35" />
<path d="M477.5 346.5 L491 346.5" fill="none" stroke="#444" stroke-width="0.35" />
<path d="M477.5 347.5 L491 347.5" fill="none" stroke="#444" stroke-width="0.35" />
<path d="M477.5 348.5 L491 348.5" fill="none" stroke="#444" stroke-width="0.35" />
<path d="M477.5 349.5 L491 349.5" fill="none" stroke="#444" stroke-width="0.35" />
<path d="M477.5 337.5 L477.5 359" fill="none" stroke="#222" stroke-width="0.6" />
<rect x="478.5" y="324.5" width="3" height="3" rx="0" fill="#fff" stroke="#222" stroke-width="0.8" />
<rect x="483.5" y="324.5" width="3" height="3" rx="0" fill="#fff" stroke="#222" stroke-width="0.8" />
<rect x="487.5" y="324.5" width="3" height="3" rx="0" fill="#fff" stroke="#222" stroke-width="0.8" />
<path d="M491.5 329 L491.5 359.5" fill="none" stroke="#222" stroke-width="0.6" />
<path d="M495.5 329 L495.5 359.5" fill="none" stroke="#222" stroke-width="0.6" />
<path d="M491.6 330.5 L495.8 330.5" fill="none" stroke="#222" stroke-width="0.4" />
<path d="M491.6 332.5 L495.8 332.5" fill="none" stroke="#222" stroke-width="0.4" />
<path d="M491.6 334.5 L495.8 334.5" fill="none" stroke="#222" stroke-width="0.4" />
<path d="M491.6 336.5 L495.8 336.5" fill="none" stroke="#222" stroke-width="0.4" />
<path d="M491.6 338.5 L495.8 338.5" fill="none" stroke="#222" stroke-width="0.4" />
<path d="M491.6 340.5 L495.8 340.5" fill="none" stroke="#222" stroke-width="0.4" />
<path d="M491.6 342.5 L495.8 342.5" fill="none" stroke="#222" stroke-width="0.4" />
<path d="M491.6 344.5 L495.8 344.5" fill="none" stroke="#222" stroke-width="0.4" />
<path d="M491.6 346.5 L495.8 346.5" fill="none" stroke="#222" stroke-width="0.4" />
<path d="M491.6 348.5 L495.8 348.5" fill="none" stroke="#222" stroke-width="0.4" />
<path d="M491.6 350.5 L495.8 350.5" fill="none" stroke="#222" stroke-width="0.4" />
<path d="M491.6 352.5 L495.8 352.5" fill="none" stroke="#222" stroke-width="0.4" />
<path d="M491.6 354.5 L495.8 354.5" fill="none" stroke="#222" stroke-width="0.4" />
<path d="M491.6 356.5 L495.8 356.5" fill="none" stroke="#222" stroke-width="0.4" />
<path d="M491.6 358.5 L495.8 358.5" fill="none" stroke="#222" stroke-width="0.4" />
<path d="M520.5 327 L520.5 359.5" fill="none" stroke="#222" stroke-width="0.7" />
<path d="M529.5 310 L529.5 359.5" fill="none" stroke="#222" stroke-width="0.9" />
<path d="M521 338.5 L524 338.5" fill="none" stroke="#222" stroke-width="0.4" />
<path d="M521 340.5 L524 340.5" fill="none" stroke="#222" stroke-width="0.4" />
<path d="M521 342.5 L524 342.5" fill="none" stroke="#222" stroke-width="0.4" />
<path d="M521 344.5 L524 344.5" fill="none" stroke="#222" stroke-width="0.4" />
<path d="M521 346.5 L524 346.5" fill="none" stroke="#222" stroke-width="0.4" />
<path d="M521 348.5 L524 348.5" fill="none" stroke="#222" stroke-width="0.4" />
<path d="M521 350.5 L524 350.5" fill="none" stroke="#222" stroke-width="0.4" />
<path d="M521 352.5 L524 352.5" fill="none" stroke="#222" stroke-width="0.4" />
<path d="M521 354.5 L524 354.5" fill="none" stroke="#222" stroke-width="0.4" />
<path d="M521 356.5 L524 356.5" fill="none" stroke="#222" stroke-width="0.4" />
<path d="M521 358.5 L524 358.5" fill="none" stroke="#222" stroke-width="0.4" />
<path d="M524.5 336 L524.5 359" fill="none" stroke="#222" stroke-width="0.5" />
<path d="M529.5 50.5 L529.5 102.5" fill="none" stroke="#222" stroke-width="0.9" />
<path d="M533 127 L540 179.5" fill="none" stroke="#222" stroke-width="0.9" />
<path d="M534 179.5 L540 179.5" fill="none" stroke="#222" stroke-width="0.9" />
<path d="M510 179.5 L515 179.5" fill="none" stroke="#222" stroke-width="0.9" />
<path d="M510.5 179.5 L510.5 230.5" fill="none" stroke="#222" stroke-width="0.9" />
<path d="M530.5 183 L530.5 230.5" fill="none" stroke="#222" stroke-width="0.9" />
<path d="M510 230.5 L539.5 230.5" fill="none" stroke="#222" stroke-width="0.9" />
<path d="M539.5 230.5 L533 281" fill="none" stroke="#222" stroke-width="0.9" />
<path d="M507.5 192.5 L512.5 192.5" fill="none" stroke="#222" stroke-width="0.6" />
<path d="M527.5 192.5 L532.5 192.5" fill="none" stroke="#222" stroke-width="0.6" />
<path d="M507.5 218.5 L512.5 218.5" fill="none" stroke="#222" stroke-width="0.6" />
<path d="M527.5 218.5 L532.5 218.5" fill="none" stroke="#222" stroke-width="0.6" />
<path d="M511 127.5 L518 127.5" fill="none" stroke="#222" stroke-width="0.5" />
<path d="M511 129.5 L518 129.5" fill="none" stroke="#222" stroke-width="0.5" />
<path d="M511 131.5 L518 131.5" fill="none" stroke="#222" stroke-width="0.5" />
<path d="M511 133.5 L518 133.5" fill="none" stroke="#222" stroke-width="0.5" />
<path d="M511 135.5 L518 135.5" fill="none" stroke="#222" stroke-width="0.5" />
<path d="M511 137.5 L518 137.5" fill="none" stroke="#222" stroke-width="0.5" />
<path d="M511 139.5 L518 139.5" fill="none" stroke="#222" stroke-width="0.5" />
<path d="M511 141.5 L518 141.5" fill="none" stroke="#222" stroke-width="0.5" />
<path d="M511 144.5 L518 144.5" fill="none" stroke="#222" stroke-width="0.5" />
<path d="M511.5 127 L511.5 144" fill="none" stroke="#222" stroke-width="0.5" />
<path d="M513.5 127 L513.5 144" fill="none" stroke="#222" stroke-width="0.5" />
<path d="M515.5 127 L515.5 144" fill="none" stroke="#222" stroke-width="0.5" />
<path d="M518.5 127 L518.5 144" fill="none" stroke="#222" stroke-width="0.5" />
<path d="M518 144 L524 142.5" fill="none" stroke="#222" stroke-width="0.6" />
<path d="M511.5 266.5 L519 266.5" fill="none" stroke="#222" stroke-width="0.5" />
<path d="M511.5 268.5 L519 268.5" fill="none" stroke="#222" stroke-width="0.5" />
<path d="M511.5 270.5 L519 270.5" fill="none" stroke="#222" stroke-width="0.5" />
<path d="M511.5 272.5 L519 272.5" fill="none" stroke="#222" stroke-width="0.5" />
<path d="M511.5 274.5 L519 274.5" fill="none" stroke="#222" stroke-width="0.5" />
<path d="M511.5 276.5 L519 276.5" fill="none" stroke="#222" stroke-width="0.5" />
<path d="M511.5 278.5 L519 278.5" fill="none" stroke="#222" stroke-width="0.5" />
<path d="M511.5 280.5 L519 280.5" fill="none" stroke="#222" stroke-width="0.5" />
<path d="M511.5 266 L511.5 280.5" fill="none" stroke="#222" stroke-width="0.5" />
<path d="M514.5 266 L514.5 280.5" fill="none" stroke="#222" stroke-width="0.5" />
<path d="M516.5 266 L516.5 280.5" fill="none" stroke="#222" stroke-width="0.5" />
<path d="M519.5 266 L519.5 280.5" fill="none" stroke="#222" stroke-width="0.5" />
<path d="M510.5 264.5 L523 267" fill="none" stroke="#222" stroke-width="0.6" />
<path d="M539.1 50.8 C540.8 56.5 546.4 73.1 549.3 85 C552.2 96.9 555.0 112.8 556.7 122 C558.4 131.2 558.6 134.3 559.5 140 C560.4 145.7 561.2 149.0 561.8 156 C562.4 163.0 563.0 173.3 563.3 182 C563.6 190.7 563.5 199.3 563.4 208 C563.3 216.7 562.9 227.0 562.6 234 C562.3 241.0 562.4 242.3 561.6 250 C560.8 257.7 559.3 270.3 557.8 280.4 C556.2 290.5 554.4 300.7 552.3 310.8 C550.2 320.9 547.2 330.9 545 341 C542.8 351.1 540.2 365.1 538.9 371.6 C537.6 378.1 537.3 378.6 537 380" fill="none" stroke="#444" stroke-width="0.8" />
<path d="M491.5 51 L491.5 72" fill="none" stroke="#222" stroke-width="0.8" />
<path d="M507.5 51 L507.5 55" fill="none" stroke="#222" stroke-width="0.8" />
<path d="M491 51.5 L529.5 51.5" fill="none" stroke="#222" stroke-width="0.7" />
<path d="M507 86.5 L529.5 86.5" fill="none" stroke="#222" stroke-width="0.8" />
<path d="M497 60 L500 63 L503 60.5" fill="none" stroke="#222" stroke-width="0.6" />
<path d="M476.5 53 L476.5 84" fill="none" stroke="#222" stroke-width="0.8" />
<path d="M490.5 55 L490.5 72" fill="none" stroke="#222" stroke-width="0.7" />
<path d="M477.5 62 Q477.5 55 484 55 Q490 55 490 62" fill="none" stroke="#222" stroke-width="0.6" />
<path d="M477.5 60.5 L485 60.5" fill="none" stroke="#222" stroke-width="0.5" />
<path d="M477.5 62.5 L485 62.5" fill="none" stroke="#222" stroke-width="0.5" />
<path d="M477.5 64.5 L485 64.5" fill="none" stroke="#222" stroke-width="0.5" />
<path d="M477.5 66.5 L485 66.5" fill="none" stroke="#222" stroke-width="0.5" />
<path d="M477.5 68.5 L485 68.5" fill="none" stroke="#222" stroke-width="0.5" />
<path d="M477.5 71.5 L485 71.5" fill="none" stroke="#222" stroke-width="0.5" />
<path d="M478 84.5 L485 84.5" fill="none" stroke="#222" stroke-width="0.7" />
<rect x="478.5" y="82.5" width="3" height="3" rx="0" fill="#fff" stroke="#222" stroke-width="0.8" />
<path d="M437.3 50 L437.3 44.8 L442.15 48.5 L447.0 44.8 L447.0 50" fill="none" stroke="#222" stroke-width="0.8" />
<path d="M457.2 50 L457.2 44.8 L462.1 48.5 L467.0 44.8 L467.0 50" fill="none" stroke="#222" stroke-width="0.8" />
<circle cx="117" cy="50.3" r="2.4" fill="#fff" stroke="#222" stroke-width="0.7"/>
<circle cx="168.5" cy="50.3" r="2.4" fill="#fff" stroke="#222" stroke-width="0.7"/>
<circle cx="220" cy="50.3" r="2.4" fill="#fff" stroke="#222" stroke-width="0.7"/>
<circle cx="271.5" cy="50.3" r="2.4" fill="#fff" stroke="#222" stroke-width="0.7"/>
<circle cx="323" cy="50.3" r="2.4" fill="#fff" stroke="#222" stroke-width="0.7"/>
<circle cx="374.5" cy="50.3" r="2.4" fill="#fff" stroke="#222" stroke-width="0.7"/>
<circle cx="426" cy="50.3" r="2.4" fill="#fff" stroke="#222" stroke-width="0.7"/>
<circle cx="529.5" cy="50.3" r="2.4" fill="#fff" stroke="#222" stroke-width="0.7"/>
<circle cx="117" cy="102" r="2.4" fill="#fff" stroke="#222" stroke-width="0.7"/>
<circle cx="117" cy="153.5" r="2.4" fill="#fff" stroke="#222" stroke-width="0.7"/>
<circle cx="117" cy="205" r="2.4" fill="#fff" stroke="#222" stroke-width="0.7"/>
<circle cx="117" cy="256.3" r="2.4" fill="#fff" stroke="#222" stroke-width="0.7"/>
<circle cx="116.5" cy="359.5" r="2.4" fill="#fff" stroke="#222" stroke-width="0.7"/>
<circle cx="168" cy="359.5" r="2.4" fill="#fff" stroke="#222" stroke-width="0.7"/>
<circle cx="220" cy="359.5" r="2.4" fill="#fff" stroke="#222" stroke-width="0.7"/>
<circle cx="271.3" cy="359.5" r="2.4" fill="#fff" stroke="#222" stroke-width="0.7"/>
<circle cx="322.8" cy="359.5" r="2.4" fill="#fff" stroke="#222" stroke-width="0.7"/>
<circle cx="374.3" cy="359.5" r="2.4" fill="#fff" stroke="#222" stroke-width="0.7"/>
<circle cx="426" cy="359.5" r="2.4" fill="#fff" stroke="#222" stroke-width="0.7"/>
<circle cx="529.5" cy="359.5" r="2.4" fill="#fff" stroke="#222" stroke-width="0.7"/>
<circle cx="529.5" cy="102.5" r="2.4" fill="#fff" stroke="#222" stroke-width="0.7"/>
<circle cx="529.5" cy="308" r="2.4" fill="#fff" stroke="#222" stroke-width="0.7"/>
<ellipse cx="536.6" cy="153.5" rx="2" ry="2.6" fill="#fff" stroke="#222" stroke-width="0.8"/>
<ellipse cx="536.6" cy="256.3" rx="2" ry="2.6" fill="#fff" stroke="#222" stroke-width="0.8"/>
<g transform="translate(131.2 61.2) scale(0.9909)">
<rect width="22" height="22" rx="1.8" fill="#080808"/>
<path d="M1.6 20.6 L1.6 18.2 L3.6 18.2 L3.6 17.2 L6 17.2 L6 16.2 L8.4 16.2 L8.4 15.2 L10.8 15.2 L10.8 14.2 L13.2 14.2 L13.2 13.2 L15.6 13.2 L15.6 12.2 L18 12.2 L18 11.2 L20.4 11.2 L20.4 13.6 Z" fill="#fff"/>
<circle cx="5.7" cy="4.6" r="1.05" fill="#fff"/>
<path d="M5.6000000000000005 6.199999999999999 L5.7 10.8" stroke="#fff" stroke-width="2" fill="none" stroke-linecap="round"/>
<path d="M5.7 10.6 L5.8 15.4 M5.9 10.6 L8.1 12.0 L8.7 14.0" stroke="#fff" stroke-width="1.35" fill="none" stroke-linecap="round" stroke-linejoin="round"/>
<path d="M5.3 6.6 L3.1 9.6 M6.1000000000000005 6.6 L8.5 9.8" stroke="#fff" stroke-width="1" fill="none" stroke-linecap="round"/>
<circle cx="14.1" cy="2.1" r="1.05" fill="#fff"/>
<path d="M14.0 3.7 L14.1 8.3" stroke="#fff" stroke-width="2" fill="none" stroke-linecap="round"/>
<path d="M14.1 8.1 L14.2 12.9 M14.299999999999999 8.1 L16.5 9.5 L17.1 11.5" stroke="#fff" stroke-width="1.35" fill="none" stroke-linecap="round" stroke-linejoin="round"/>
<path d="M13.7 4.1 L11.5 7.1 M14.5 4.1 L16.9 7.300000000000001" stroke="#fff" stroke-width="1" fill="none" stroke-linecap="round"/>
</g>
<g transform="translate(197.6 67.4) scale(1.0182)">
<rect width="22" height="22" rx="1.8" fill="#080808"/>
<g transform="translate(5.8 2.9) scale(1.08 1.08)">
<ellipse cx="0" cy="1.3" rx="1.3" ry="1.3" fill="#fff"/>
<path d="M-1.6 2.9 H1.6 L3 8 H2.2 L1.4 5 L2.6 10.6 H1.3 V15 H0.3 V10.6 H-0.3 V15 H-1.3 V10.6 H-2.6 L-1.4 5 L-2.2 8 H-3 Z" fill="#fff"/>
</g>
<g transform="translate(16.4 2.9) scale(1.08 1.08)">
<ellipse cx="0" cy="1.3" rx="1.3" ry="1.3" fill="#fff"/>
<path d="M-2.6 3.1 Q-2.6 2.9 -2.2 2.9 H2.2 Q2.6 2.9 2.6 3.3 V8.6 H1.8 V4.6 H1.6 V15 H0.25 V9.4 H-0.25 V15 H-1.6 V4.6 H-1.8 V8.6 H-2.6 Z" fill="#fff"/>
</g>
<rect x="10.7" y="3" width="1" height="16.4" fill="#fff"/>
</g>
<g transform="translate(300.3 67.6) scale(1.0091)">
<rect width="22" height="22" rx="1.8" fill="#080808"/>
<path d="M7.8 2 V6.6 M6 4.8 L7.8 6.8 L9.6 4.8 M14.4 6.8 V2.2 M12.6 4.2 L14.4 2.2 L16.2 4.2 M8.8 6.6 L13.4 3.6" stroke="#fff" stroke-width="1.1" fill="none"/>
<rect x="5.2" y="8.6" width="11.4" height="10.4" fill="none" stroke="#fff" stroke-width="1.1"/>
<circle cx="7.9" cy="11.3" r="0.8" fill="#fff"/>
<rect x="6.800000000000001" y="12.4" width="2.2" height="5.4" fill="#fff"/>
<circle cx="10.9" cy="11.3" r="0.8" fill="#fff"/>
<rect x="9.8" y="12.4" width="2.2" height="5.4" fill="#fff"/>
<circle cx="13.9" cy="11.3" r="0.8" fill="#fff"/>
<rect x="12.8" y="12.4" width="2.2" height="5.4" fill="#fff"/>
</g>
<g transform="translate(472.8 27.8) scale(0.9909)">
<rect width="22" height="22" rx="1.8" fill="#080808"/>
<path d="M1.6 20.6 L1.6 18.2 L3.6 18.2 L3.6 17.2 L6 17.2 L6 16.2 L8.4 16.2 L8.4 15.2 L10.8 15.2 L10.8 14.2 L13.2 14.2 L13.2 13.2 L15.6 13.2 L15.6 12.2 L18 12.2 L18 11.2 L20.4 11.2 L20.4 13.6 Z" fill="#fff"/>
<circle cx="5.7" cy="4.6" r="1.05" fill="#fff"/>
<path d="M5.6000000000000005 6.199999999999999 L5.7 10.8" stroke="#fff" stroke-width="2" fill="none" stroke-linecap="round"/>
<path d="M5.7 10.6 L5.8 15.4 M5.9 10.6 L8.1 12.0 L8.7 14.0" stroke="#fff" stroke-width="1.35" fill="none" stroke-linecap="round" stroke-linejoin="round"/>
<path d="M5.3 6.6 L3.1 9.6 M6.1000000000000005 6.6 L8.5 9.8" stroke="#fff" stroke-width="1" fill="none" stroke-linecap="round"/>
<circle cx="14.1" cy="2.1" r="1.05" fill="#fff"/>
<path d="M14.0 3.7 L14.1 8.3" stroke="#fff" stroke-width="2" fill="none" stroke-linecap="round"/>
<path d="M14.1 8.1 L14.2 12.9 M14.299999999999999 8.1 L16.5 9.5 L17.1 11.5" stroke="#fff" stroke-width="1.35" fill="none" stroke-linecap="round" stroke-linejoin="round"/>
<path d="M13.7 4.1 L11.5 7.1 M14.5 4.1 L16.9 7.300000000000001" stroke="#fff" stroke-width="1" fill="none" stroke-linecap="round"/>
</g>
<g transform="translate(429 51.6) scale(0.9909)">
<rect width="22" height="22" rx="1.8" fill="#080808"/>
<rect x="3" y="4.6" width="7" height="4.9" rx="1" fill="#fff"/>
<path d="M5 4.8999999999999995 L6.5 2.5999999999999996 L8 4.8999999999999995" stroke="#fff" stroke-width="0.9" fill="none"/>
<rect x="11.6" y="4.6" width="7" height="4.9" rx="1" fill="#fff"/>
<path d="M13.6 4.8999999999999995 L15.1 2.5999999999999996 L16.6 4.8999999999999995" stroke="#fff" stroke-width="0.9" fill="none"/>
<rect x="3" y="12.4" width="7" height="4.9" rx="1" fill="#fff"/>
<path d="M5 12.700000000000001 L6.5 10.4 L8 12.700000000000001" stroke="#fff" stroke-width="0.9" fill="none"/>
<rect x="11.6" y="12.4" width="7" height="4.9" rx="1" fill="#fff"/>
<path d="M13.6 12.700000000000001 L15.1 10.4 L16.6 12.700000000000001" stroke="#fff" stroke-width="0.9" fill="none"/>
<rect x="2.6" y="9.9" width="16.6" height="0.9" fill="#fff"/><rect x="2.6" y="17.9" width="16.6" height="0.9" fill="#fff"/>
</g>
<g transform="translate(453 51.6) scale(0.9909)">
<rect width="22" height="22" rx="1.8" fill="#080808"/>
<path d="M8.2 4.8 L8.6 3 H13.2 L13.6 4.8 Z" fill="#fff"/>
<rect x="9" y="5.2" width="3.8" height="3.2" rx="1.2" fill="#fff"/>
<path d="M6 11.4 Q6 9 9 9 H13 Q16 9 16 11.4 V19.4 H6 Z" fill="#fff"/>
<path d="M8.2 16.2 H13.4 M10.9 9.2 V12" stroke="#080808" stroke-width="0.8" fill="none"/>
</g>
<g transform="translate(507 54.2) scale(1.0)">
<rect width="22" height="22" rx="1.8" fill="#080808"/>
<path d="M6.6 6 H15.4 V9.4 Q15.4 13.2 11 13.2 Q6.6 13.2 6.6 9.4 Z" fill="#fff"/>
<path d="M15.4 7 H17 Q18.4 7 18.4 8.6 Q18.4 10.4 15.2 10.6" stroke="#fff" stroke-width="1" fill="none"/>
<rect x="3.6" y="14.6" width="14.8" height="1.3" fill="#fff"/>
</g>
<g transform="translate(485.3 72.8) scale(1.0)">
<rect width="22" height="22" rx="1.8" fill="#080808"/>
<path d="M7.8 2 V6.6 M6 4.8 L7.8 6.8 L9.6 4.8 M14.4 6.8 V2.2 M12.6 4.2 L14.4 2.2 L16.2 4.2 M8.8 6.6 L13.4 3.6" stroke="#fff" stroke-width="1.1" fill="none"/>
<rect x="5.2" y="8.6" width="11.4" height="10.4" fill="none" stroke="#fff" stroke-width="1.1"/>
<circle cx="7.9" cy="11.3" r="0.8" fill="#fff"/>
<rect x="6.800000000000001" y="12.4" width="2.2" height="5.4" fill="#fff"/>
<circle cx="10.9" cy="11.3" r="0.8" fill="#fff"/>
<rect x="9.8" y="12.4" width="2.2" height="5.4" fill="#fff"/>
<circle cx="13.9" cy="11.3" r="0.8" fill="#fff"/>
<rect x="12.8" y="12.4" width="2.2" height="5.4" fill="#fff"/>
</g>
<g transform="translate(511.2 105.8) scale(1.0091)">
<rect width="22" height="22" rx="1.8" fill="#080808"/>
<path d="M4.5 15.5 H8.6 L14.6 7.4 H18" stroke="#fff" stroke-width="3.7" fill="none" stroke-linecap="round" stroke-linejoin="round"/>
<path d="M4.6 15.5 H8.4 L14.4 7.4 H17.9" stroke="#080808" stroke-width="1.4" fill="none" stroke-linecap="round" stroke-linejoin="round"/>
<circle cx="9.9" cy="3.8" r="1.05" fill="#fff"/>
<path d="M8.7 5.2 H11.1 V8.6 L8.7 11.4 Z" fill="#fff"/>
<path d="M18.6 13.4 L14.4 17.2 M14.2 14 V17.4 H17.6" stroke="#fff" stroke-width="1.2" fill="none"/>
</g>
<g transform="translate(555.8 50.6) scale(1.0)">
<rect width="22" height="22" rx="1.8" fill="#080808"/>
<path d="M2 8.4 Q2 7 3.4 7 H19 Q20.6 7 20.6 8.6 V14.8 H2 Z" fill="#fff"/>
<rect x="4.6" y="8.4" width="2.4" height="2" fill="#080808"/>
<rect x="7.8" y="8.4" width="2.4" height="2" fill="#080808"/>
<rect x="11" y="8.4" width="2.4" height="2" fill="#080808"/>
<rect x="14.2" y="8.4" width="2.4" height="2" fill="#080808"/>
<path d="M3.6 8.4 V12" stroke="#080808" stroke-width="0.7"/>
<circle cx="5.6" cy="15" r="1.6" fill="#fff" stroke="#080808" stroke-width="0.5"/><circle cx="16.2" cy="15" r="1.6" fill="#fff" stroke="#080808" stroke-width="0.5"/>
</g>
<g transform="translate(428.7 193) scale(1.0)">
<rect width="22" height="22" rx="1.8" fill="#080808"/>
<circle cx="6.6" cy="3.9" r="1.25" fill="#fff"/><circle cx="14.8" cy="3.9" r="1.25" fill="#fff"/>
<path d="M3.4 10.7 L4.3 6.5 Q4.5 5.6 5.6 5.6 H7.7 Q8.7 5.6 9 6.5 L9.4 7.9 L12 7.2 L12.3 8.3 L9.7 9.4 V10.7 Z" fill="#fff"/>
<rect x="2" y="10.8" width="18.6" height="1.3" fill="#fff"/>
<path d="M11.9 10.6 V6.7 Q11.9 5.6 12.9 5.6 H16.7 Q17.7 5.6 17.7 6.7 V10.6 Z" fill="#fff"/>
<path d="M13.3 12.1 H16.4 V19.2 H15.15 V13.6 H14.55 V19.2 H13.3 Z" fill="#fff"/>
</g>
<g transform="translate(430.2 284.4) scale(0.9909)">
<rect width="22" height="22" rx="1.8" fill="#080808"/>
<circle cx="6.4" cy="5" r="1.5" fill="none" stroke="#fff" stroke-width="1"/>
<path d="M7.8 5 H15.6 M12.6 5 V6.6 M14.6 5 V6.6" stroke="#fff" stroke-width="1" fill="none"/>
<rect x="4" y="9" width="14" height="9.4" fill="none" stroke="#fff" stroke-width="1.3"/>
<rect x="6.6" y="11.6" width="8.8" height="5" fill="none" stroke="#fff" stroke-width="1"/>
<path d="M9 9 V7.8 H13 V9" stroke="#fff" stroke-width="0.9" fill="none"/>
</g>
<g transform="translate(512.3 280.4) scale(1.0182)">
<rect width="22" height="22" rx="1.8" fill="#080808"/>
<path d="M4.5 15.5 H8.6 L14.6 7.4 H18" stroke="#fff" stroke-width="3.7" fill="none" stroke-linecap="round" stroke-linejoin="round"/>
<path d="M4.6 15.5 H8.4 L14.4 7.4 H17.9" stroke="#080808" stroke-width="1.4" fill="none" stroke-linecap="round" stroke-linejoin="round"/>
<circle cx="9.9" cy="3.8" r="1.05" fill="#fff"/>
<path d="M8.7 5.2 H11.1 V8.6 L8.7 11.4 Z" fill="#fff"/>
<path d="M14.2 17.4 L18.6 13.4 M15.4 13.2 H18.8 V16.6" stroke="#fff" stroke-width="1.2" fill="none"/>
</g>
<g transform="translate(497.5 313.6) scale(1.0)">
<rect width="22" height="22" rx="1.8" fill="#080808"/>
<circle cx="9.6" cy="4.2" r="1.5" fill="#fff"/>
<path d="M9.4 6.4 V12.2 H14.4 L16.6 17 L18.4 16.2" stroke="#fff" stroke-width="1.7" fill="none" stroke-linejoin="round"/>
<path d="M9.6 8.8 H13.6" stroke="#fff" stroke-width="1.3" fill="none"/>
<path d="M7.6 9.6 A5 5 0 1 0 14.8 15.8" stroke="#fff" stroke-width="1.4" fill="none"/>
</g>
<g transform="translate(497.5 336.8) scale(1.0)">
<rect width="22" height="22" rx="1.8" fill="#080808"/>
<g transform="translate(5.8 2.9) scale(1.08 1.08)">
<ellipse cx="0" cy="1.3" rx="1.3" ry="1.3" fill="#fff"/>
<path d="M-1.6 2.9 H1.6 L3 8 H2.2 L1.4 5 L2.6 10.6 H1.3 V15 H0.3 V10.6 H-0.3 V15 H-1.3 V10.6 H-2.6 L-1.4 5 L-2.2 8 H-3 Z" fill="#fff"/>
</g>
<g transform="translate(16.4 2.9) scale(1.08 1.08)">
<ellipse cx="0" cy="1.3" rx="1.3" ry="1.3" fill="#fff"/>
<path d="M-2.6 3.1 Q-2.6 2.9 -2.2 2.9 H2.2 Q2.6 2.9 2.6 3.3 V8.6 H1.8 V4.6 H1.6 V15 H0.25 V9.4 H-0.25 V15 H-1.6 V4.6 H-1.8 V8.6 H-2.6 Z" fill="#fff"/>
</g>
<rect x="10.7" y="3" width="1" height="16.4" fill="#fff"/>
</g>
<g transform="translate(453.6 334.2) scale(0.9909)">
<rect width="22" height="22" rx="1.8" fill="#080808"/>
<rect x="2.6" y="3.4" width="16.2" height="8" fill="none" stroke="#fff" stroke-width="1.1"/>
<circle cx="11.6" cy="7.2" r="2.1" fill="#080808" stroke="#fff" stroke-width="0.9"/>
<circle cx="15.6" cy="13" r="2.9" fill="#080808" stroke="#fff" stroke-width="1.1"/>
<circle cx="7.2" cy="17" r="2.5" fill="#a88" stroke="#fff" stroke-width="1.1"/>
<path d="M14.6 11.4 H16.2 Q17 12.2 15.8 12.9 Q17.2 13.8 16 14.7 H14.6" stroke="#fff" stroke-width="0.8" fill="none"/>
<path d="M6.2 16.5 H8.2 M6.2 17.6 H8.2" stroke="#080808" stroke-width="0.6" fill="none"/>
</g>
<g transform="translate(442 358.8) scale(0.9909)">
<rect width="22" height="22" rx="1.8" fill="#080808"/>
<rect x="2.6" y="15.6" width="14" height="2" fill="#fff"/>
<rect x="17.2" y="15.6" width="0.9" height="2" fill="#fff"/><rect x="18.8" y="15.6" width="0.9" height="2" fill="#fff"/>
<path d="M8.2 3.6 Q7 6 10 7.2 Q13.6 8.4 15.2 10.4 Q17 12 17.6 14.4" stroke="#fff" stroke-width="1.1" fill="none"/>
<path d="M12.4 4.4 Q11.6 6.4 14.4 7 Q18.6 7.6 18.4 11 Q18.6 12.6 19.4 14.4" stroke="#fff" stroke-width="1.1" fill="none"/>
</g>
<g transform="translate(475 358.8) scale(0.9909)">
<rect width="22" height="22" rx="1.8" fill="#080808"/>
<path d="M1.6 20.6 L1.6 18.2 L3.6 18.2 L3.6 17.2 L6 17.2 L6 16.2 L8.4 16.2 L8.4 15.2 L10.8 15.2 L10.8 14.2 L13.2 14.2 L13.2 13.2 L15.6 13.2 L15.6 12.2 L18 12.2 L18 11.2 L20.4 11.2 L20.4 13.6 Z" fill="#fff"/>
<circle cx="5.7" cy="4.6" r="1.05" fill="#fff"/>
<path d="M5.6000000000000005 6.199999999999999 L5.7 10.8" stroke="#fff" stroke-width="2" fill="none" stroke-linecap="round"/>
<path d="M5.7 10.6 L5.8 15.4 M5.9 10.6 L8.1 12.0 L8.7 14.0" stroke="#fff" stroke-width="1.35" fill="none" stroke-linecap="round" stroke-linejoin="round"/>
<path d="M5.3 6.6 L3.1 9.6 M6.1000000000000005 6.6 L8.5 9.8" stroke="#fff" stroke-width="1" fill="none" stroke-linecap="round"/>
<circle cx="14.1" cy="2.1" r="1.05" fill="#fff"/>
<path d="M14.0 3.7 L14.1 8.3" stroke="#fff" stroke-width="2" fill="none" stroke-linecap="round"/>
<path d="M14.1 8.1 L14.2 12.9 M14.299999999999999 8.1 L16.5 9.5 L17.1 11.5" stroke="#fff" stroke-width="1.35" fill="none" stroke-linecap="round" stroke-linejoin="round"/>
<path d="M13.7 4.1 L11.5 7.1 M14.5 4.1 L16.9 7.300000000000001" stroke="#fff" stroke-width="1" fill="none" stroke-linecap="round"/>
</g>
<g transform="translate(85.8 265.6) scale(0.9727)">
<rect width="22" height="22" rx="1.8" fill="#080808"/>
<path d="M7.8 2 V6.6 M6 4.8 L7.8 6.8 L9.6 4.8 M14.4 6.8 V2.2 M12.6 4.2 L14.4 2.2 L16.2 4.2 M8.8 6.6 L13.4 3.6" stroke="#fff" stroke-width="1.1" fill="none"/>
<rect x="5.2" y="8.6" width="11.4" height="10.4" fill="none" stroke="#fff" stroke-width="1.1"/>
<circle cx="7.9" cy="11.3" r="0.8" fill="#fff"/>
<rect x="6.800000000000001" y="12.4" width="2.2" height="5.4" fill="#fff"/>
<circle cx="10.9" cy="11.3" r="0.8" fill="#fff"/>
<rect x="9.8" y="12.4" width="2.2" height="5.4" fill="#fff"/>
<circle cx="13.9" cy="11.3" r="0.8" fill="#fff"/>
<rect x="12.8" y="12.4" width="2.2" height="5.4" fill="#fff"/>
</g>
<g transform="translate(242 251.2) scale(1.0)">
<rect width="22" height="22" rx="1.8" fill="#080808"/>
<circle cx="9.6" cy="4.2" r="1.5" fill="#fff"/>
<path d="M9.4 6.4 V12.2 H14.4 L16.6 17 L18.4 16.2" stroke="#fff" stroke-width="1.7" fill="none" stroke-linejoin="round"/>
<path d="M9.6 8.8 H13.6" stroke="#fff" stroke-width="1.3" fill="none"/>
<path d="M7.6 9.6 A5 5 0 1 0 14.8 15.8" stroke="#fff" stroke-width="1.4" fill="none"/>
</g>
<g transform="translate(267.8 262) scale(0.9909)">
<rect width="22" height="22" rx="1.8" fill="#080808"/>
<g transform="translate(11 1.7) scale(1.5 1.25)">
<ellipse cx="0" cy="1.3" rx="1.083" ry="1.3" fill="#fff"/>
<path d="M-2.6 3.1 Q-2.6 2.9 -2.2 2.9 H2.2 Q2.6 2.9 2.6 3.3 V8.6 H1.8 V4.6 H1.6 V15 H0.25 V9.4 H-0.25 V15 H-1.6 V4.6 H-1.8 V8.6 H-2.6 Z" fill="#fff"/>
</g>
</g>
<g transform="translate(267.8 286.8) scale(0.9909)">
<rect width="22" height="22" rx="1.8" fill="#080808"/>
<g transform="translate(11 1.7) scale(1.5 1.25)">
<ellipse cx="0" cy="1.3" rx="1.083" ry="1.3" fill="#fff"/>
<path d="M-1.6 2.9 H1.6 L3 8 H2.2 L1.4 5 L2.6 10.6 H1.3 V15 H0.3 V10.6 H-0.3 V15 H-1.3 V10.6 H-2.6 L-1.4 5 L-2.2 8 H-3 Z" fill="#fff"/>
</g>
</g>
<g transform="translate(182.6 299.4) scale(0.9909)">
<rect width="22" height="22" rx="1.8" fill="#080808"/>
<circle cx="9.7" cy="4.4" r="1.2" fill="#fff"/>
<path d="M9.7 6.6 L9.3 11.6" stroke="#fff" stroke-width="2.5" fill="none" stroke-linecap="round"/>
<path d="M9.3 11.4 L4.8 12.4 L3.9 17" stroke="#fff" stroke-width="2" fill="none" stroke-linejoin="round"/>
<circle cx="13.2" cy="4.4" r="1.2" fill="#fff"/>
<path d="M13.2 6.6 L13.6 11.6" stroke="#fff" stroke-width="2.5" fill="none" stroke-linecap="round"/>
<path d="M13.6 11.4 L18.1 12.4 L19.0 17" stroke="#fff" stroke-width="2" fill="none" stroke-linejoin="round"/>
<path d="M9 7.6 L5.4 9.2" stroke="#fff" stroke-width="1.5" fill="none"/>
<rect x="6.6" y="13" width="9" height="1.4" fill="#fff"/>
</g>
<g transform="translate(100 326) scale(0.9818)">
<rect width="22" height="22" rx="1.8" fill="#080808"/>
<path d="M1.6 20.6 L1.6 18.2 L3.6 18.2 L3.6 17.2 L6 17.2 L6 16.2 L8.4 16.2 L8.4 15.2 L10.8 15.2 L10.8 14.2 L13.2 14.2 L13.2 13.2 L15.6 13.2 L15.6 12.2 L18 12.2 L18 11.2 L20.4 11.2 L20.4 13.6 Z" fill="#fff"/>
<circle cx="5.7" cy="4.6" r="1.05" fill="#fff"/>
<path d="M5.6000000000000005 6.199999999999999 L5.7 10.8" stroke="#fff" stroke-width="2" fill="none" stroke-linecap="round"/>
<path d="M5.7 10.6 L5.8 15.4 M5.9 10.6 L8.1 12.0 L8.7 14.0" stroke="#fff" stroke-width="1.35" fill="none" stroke-linecap="round" stroke-linejoin="round"/>
<path d="M5.3 6.6 L3.1 9.6 M6.1000000000000005 6.6 L8.5 9.8" stroke="#fff" stroke-width="1" fill="none" stroke-linecap="round"/>
<circle cx="14.1" cy="2.1" r="1.05" fill="#fff"/>
<path d="M14.0 3.7 L14.1 8.3" stroke="#fff" stroke-width="2" fill="none" stroke-linecap="round"/>
<path d="M14.1 8.1 L14.2 12.9 M14.299999999999999 8.1 L16.5 9.5 L17.1 11.5" stroke="#fff" stroke-width="1.35" fill="none" stroke-linecap="round" stroke-linejoin="round"/>
<path d="M13.7 4.1 L11.5 7.1 M14.5 4.1 L16.9 7.300000000000001" stroke="#fff" stroke-width="1" fill="none" stroke-linecap="round"/>
</g>
<g transform="translate(87 361) scale(1.0)">
<rect width="22" height="22" rx="1.8" fill="#080808"/>
<path d="M4.5 15.5 H8.6 L14.6 7.4 H18" stroke="#fff" stroke-width="3.7" fill="none" stroke-linecap="round" stroke-linejoin="round"/>
<path d="M4.6 15.5 H8.4 L14.4 7.4 H17.9" stroke="#080808" stroke-width="1.4" fill="none" stroke-linecap="round" stroke-linejoin="round"/>
<circle cx="9.9" cy="3.8" r="1.05" fill="#fff"/>
<path d="M8.7 5.2 H11.1 V8.6 L8.7 11.4 Z" fill="#fff"/>
<path d="M14.2 17.4 L18.6 13.4 M15.4 13.2 H18.8 V16.6" stroke="#fff" stroke-width="1.2" fill="none"/>
</g>
<g transform="translate(139 359) scale(0.9909)">
<rect width="22" height="22" rx="1.8" fill="#080808"/>
<path d="M7.8 2 V6.6 M6 4.8 L7.8 6.8 L9.6 4.8 M14.4 6.8 V2.2 M12.6 4.2 L14.4 2.2 L16.2 4.2 M8.8 6.6 L13.4 3.6" stroke="#fff" stroke-width="1.1" fill="none"/>
<rect x="5.2" y="8.6" width="11.4" height="10.4" fill="none" stroke="#fff" stroke-width="1.1"/>
<circle cx="7.9" cy="11.3" r="0.8" fill="#fff"/>
<rect x="6.800000000000001" y="12.4" width="2.2" height="5.4" fill="#fff"/>
<circle cx="10.9" cy="11.3" r="0.8" fill="#fff"/>
<rect x="9.8" y="12.4" width="2.2" height="5.4" fill="#fff"/>
<circle cx="13.9" cy="11.3" r="0.8" fill="#fff"/>
<rect x="12.8" y="12.4" width="2.2" height="5.4" fill="#fff"/>
</g>
<g transform="translate(197.3 373.8) scale(1.0091)">
<rect width="22" height="22" rx="1.8" fill="#080808"/>
<path d="M4.5 15.5 H8.6 L14.6 7.4 H18" stroke="#fff" stroke-width="3.7" fill="none" stroke-linecap="round" stroke-linejoin="round"/>
<path d="M4.6 15.5 H8.4 L14.4 7.4 H17.9" stroke="#080808" stroke-width="1.4" fill="none" stroke-linecap="round" stroke-linejoin="round"/>
<circle cx="9.9" cy="3.8" r="1.05" fill="#fff"/>
<path d="M8.7 5.2 H11.1 V8.6 L8.7 11.4 Z" fill="#fff"/>
<path d="M18.6 13.4 L14.4 17.2 M14.2 14 V17.4 H17.6" stroke="#fff" stroke-width="1.2" fill="none"/>
</g>
<text x="439.8" y="81" font-size="7.8" text-anchor="middle" font-weight="bold" fill="#111" stroke="#111" stroke-width="0.3" >수화물</text>
<text x="439.8" y="89.8" font-size="7.8" text-anchor="middle" font-weight="bold" fill="#111" stroke="#111" stroke-width="0.3" >탁송장</text>
<text x="464.3" y="81" font-size="7.8" text-anchor="middle" font-weight="bold" fill="#111" stroke="#111" stroke-width="0.3" >경찰관</text>
<text x="464.3" y="89.8" font-size="7.8" text-anchor="middle" font-weight="bold" fill="#111" stroke="#111" stroke-width="0.3" >대기소</text>
<text x="518" y="83.4" font-size="8" text-anchor="middle" font-weight="bold" fill="#111" stroke="#111" stroke-width="0.3" >코핀</text>
<text x="555.2" y="80.2" font-size="8.2" text-anchor="start" font-weight="bold" fill="#111" stroke="#111" stroke-width="0.3" >터미널</text>
<text x="555.2" y="90.6" font-size="8.2" text-anchor="start" font-weight="bold" fill="#111" stroke="#111" stroke-width="0.3" >버스 정류장</text>
<text x="320" y="138.4" font-size="8.2" text-anchor="middle" font-weight="bold" fill="#111" stroke="#111" stroke-width="0.3" >관리사무소</text>
<text x="459" y="199.8" font-size="8.2" text-anchor="start" font-weight="bold" fill="#111" stroke="#111" stroke-width="0.3" >수속 카운터</text>
<text x="537.6" y="206.6" font-size="8.2" text-anchor="start" font-weight="bold" fill="#111" stroke="#111" stroke-width="0.3" >출입구</text>
<text x="453.2" y="297" font-size="8.2" text-anchor="start" font-weight="bold" fill="#111" stroke="#111" stroke-width="0.3" >물품보관함</text>
<text x="193" y="331.8" font-size="8.2" text-anchor="middle" font-weight="bold" fill="#111" stroke="#111" stroke-width="0.3" >대합로비</text>
<text x="485.4" y="159" font-size="8.2" text-anchor="start" font-weight="bold" fill="#111" stroke="#111" stroke-width="0.3" >종합안내소</text>
<text x="142.4" y="432.8" font-size="6.6" text-anchor="start" font-weight="bold" fill="#222" stroke="#222" stroke-width="0.15" >입국</text>
<text x="158" y="424" font-size="6.6" text-anchor="start" font-weight="bold" fill="#222" stroke="#222" stroke-width="0.15" >출국</text>
<text x="462.8" y="318.4" font-size="5.4" text-anchor="start" font-weight="bold" fill="#222" stroke="#222" stroke-width="0.15" >외화 환전</text>
<text x="454.8" y="388.4" font-size="5.2" text-anchor="middle" font-weight="bold" fill="#222" stroke="#222" stroke-width="0.15" >아외흡연소</text>
<text x="509" y="104" font-size="6.8" font-weight="bold" fill="#000" stroke="#000" stroke-width="0.25" textLength="12.2" lengthAdjust="spacingAndGlyphs">DOWN</text>
<text x="222.4" y="388.2" font-size="6.8" font-weight="bold" fill="#000" stroke="#000" stroke-width="0.25" textLength="12.2" lengthAdjust="spacingAndGlyphs">DOWN</text>
<text x="93.8" y="389.6" font-size="6.8" font-weight="bold" fill="#000" stroke="#000" stroke-width="0.25" textLength="6" lengthAdjust="spacingAndGlyphs">UP</text>
<text x="513.2" y="311.2" font-size="6.8" font-weight="bold" fill="#000" stroke="#000" stroke-width="0.25" textLength="6" lengthAdjust="spacingAndGlyphs">UP</text>
<path d="M491.2 130.4 L509 148.3 L515.6 141.7 L515.6 164.9 L492.3 164.9 L498.3 159 L480.4 141.2 Z" fill="#f00"/>
<g transform="translate(488.2 170.8)"><rect width="21" height="21" rx="1.6" fill="#e9641c"/><text x="4.2" y="6.6" font-size="6.4" font-weight="bold" fill="#fff" textLength="12.8" lengthAdjust="spacingAndGlyphs">AED</text><path d="M10.5 18.9 C3.4 13.8 2.8 11.2 2.8 9.9 C2.8 6.8 7.6 5.6 10.5 9 C13.4 5.6 18.2 6.8 18.2 9.9 C18.2 11.2 17.6 13.8 10.5 18.9 Z" fill="#fff"/><path d="M11.4 9.4 L9.4 12.6 H10.9 L9.8 15.8 L12.2 11.8 H10.6 Z" fill="#e9641c"/></g>
<circle cx="524.8" cy="173.2" r="11.3" fill="#080808"/>
<text x="524.9" y="181.2" font-size="22" font-weight="bold" fill="#fff" text-anchor="middle">?</text>
</svg>
</body></html>
